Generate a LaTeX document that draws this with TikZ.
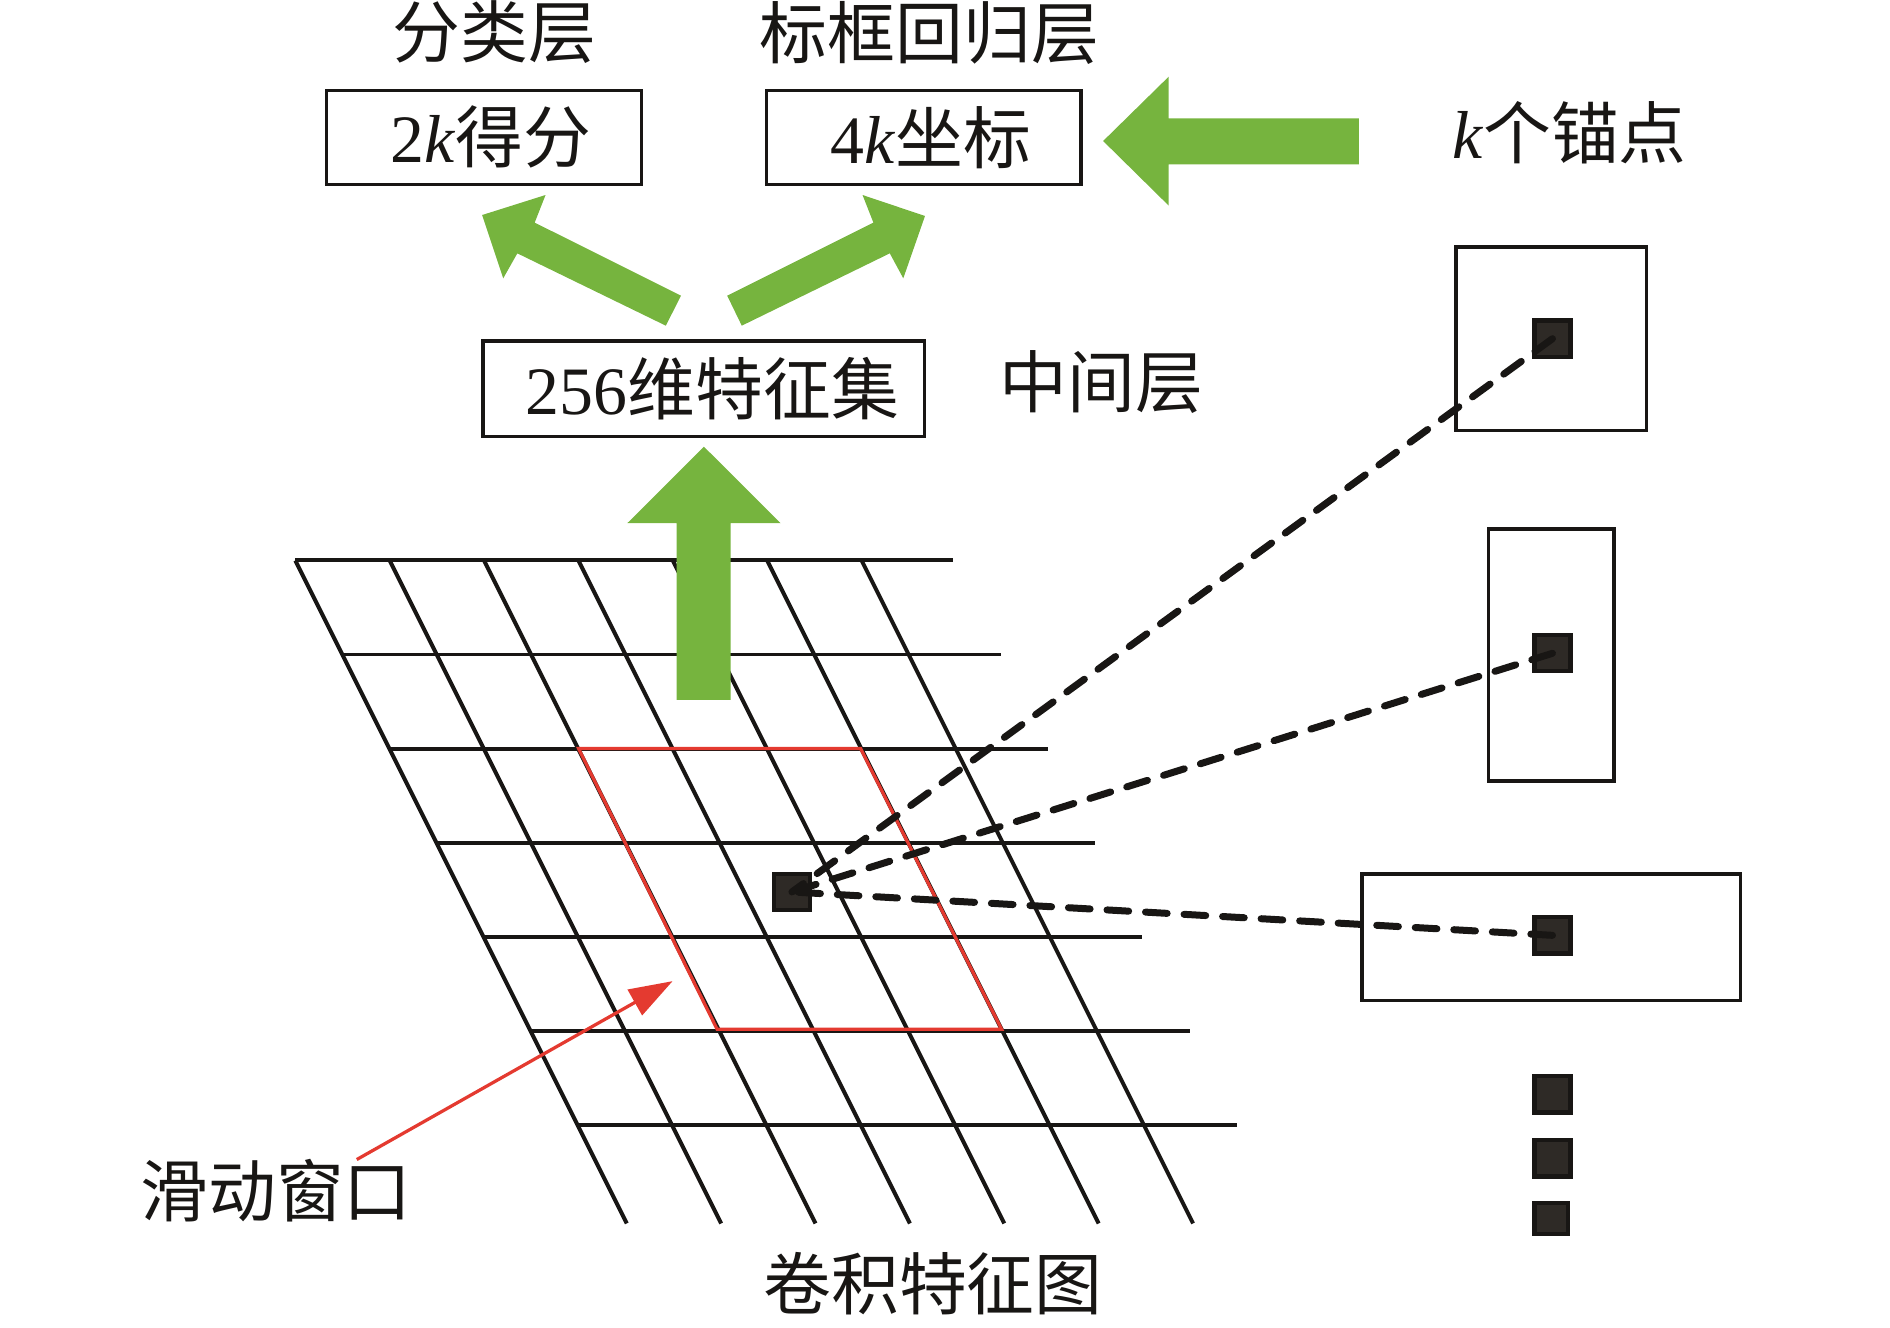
\documentclass[tikz,border=0pt]{standalone}
\usepackage{fontspec}
\setmainfont{Liberation Serif}
\newfontfamily\cjk{Noto Sans CJK SC}
\usetikzlibrary{arrows.meta}
\definecolor{arrgreen}{RGB}{118,180,62}
\definecolor{winred}{RGB}{228,58,48}
\definecolor{sqfill}{RGB}{46,42,38}
\definecolor{ink}{RGB}{24,22,20}
\newcommand\cjktxt[1]{{\cjk #1}}
\tikzset{
  lbl/.style={inner sep=0pt, text=ink, font=\fontsize{16pt}{16pt}\selectfont},
  outbox/.style={draw=ink, line width=0.03cm, inner sep=0pt, text=ink, font=\fontsize{16pt}{16pt}\selectfont},
  anchorbox/.style={draw=ink, line width=0.03cm, inner sep=0pt},
  sq/.style={draw=ink, fill=sqfill, line width=0.035cm, minimum width=0.30cm, minimum height=0.30cm, inner sep=0pt},
  gridline/.style={line width=0.033cm, draw=ink},
  dashline/.style={line width=0.058cm, dash pattern=on 0.18cm off 0.14cm, line cap=round, draw=ink},
  greenarrow/.style={fill=arrgreen, draw=none},
  winline/.style={line width=0.027cm, draw=winred},
}
\begin{document}
\begin{tikzpicture}[x=0.01cm,y=-0.01cm]
\useasboundingbox (0,0) rectangle (1568,1101);

% convolution feature map grid
\foreach \i in {0,...,6} {
  \draw[gridline] (245+39.2*\i,465+78*\i) -- (791+39.2*\i,465+78*\i);
  \draw[gridline] (245+78.3*\i,465) -- (520+78.3*\i,1015);
}

% labels
\node[lbl] (cls) at (410,27) {\cjktxt{分类层}};
\node[lbl] (reg) at (771,27) {\cjktxt{标框回归层}};
\node[lbl] (mid) at (914,317) {\cjktxt{中间层}};
\node[lbl] (kanc) at (1302,110) {\textit{k}\cjktxt{个锚点}};
\node[lbl] (slide) at (229,988) {\cjktxt{滑动窗口}};
\node[lbl] (conv) at (774,1065) {\cjktxt{卷积特征图}};

% output boxes
\node[outbox, minimum width=2.61cm, minimum height=0.78cm] (score) at (401.5,114) {\hspace*{0.12cm}2\textit{k}\cjktxt{得分}};
\node[outbox, minimum width=2.61cm, minimum height=0.78cm] (coord) at (766.5,114) {\hspace*{0.12cm}4\textit{k}\cjktxt{坐标}};
\node[outbox, minimum width=3.66cm, minimum height=0.79cm] (feat) at (584,322.5) {\hspace*{0.14cm}256\cjktxt{维特征集}};

% green block arrows
\fill[greenarrow] (400,178.4) -- (452.6,161.8) -- (443.6,184.7) -- (565,245.3) -- (552.4,270.2) -- (429.2,210.2) -- (417.5,230.9) -- cycle;
\fill[greenarrow] (767.4,179.2) -- (715.6,161.8) -- (724.6,184.7) -- (603.3,245.3) -- (615.4,270.2) -- (738.2,210.2) -- (749.4,230.9) -- cycle;
\fill[greenarrow] (915.2,117) -- (969.6,63.6) -- (969.6,98.2) -- (1127.3,98.2) -- (1127.3,136.3) -- (969.6,136.3) -- (969.6,170.6) -- cycle;
\fill[greenarrow] (584,370.6) -- (647.6,434.1) -- (606.2,434.1) -- (606.2,580.7) -- (561.4,580.7) -- (561.4,434.1) -- (520.4,434.1) -- cycle;

% sliding window
\draw[winline, line join=miter] (480,621) -- (714,621) -- (831,854) -- (595,854) -- cycle;
\coordinate (wstart) at (296,962);
\coordinate (wtip) at (558,814);
\draw[winline, -{Triangle[length=0.36cm,width=0.24cm]}] (wstart) -- (wtip);

% anchor boxes
\node[anchorbox, minimum width=1.58cm, minimum height=1.52cm] (a1) at (1287,281) {};
\node[anchorbox, minimum width=1.04cm, minimum height=2.09cm] (a2) at (1287,543.5) {};
\node[anchorbox, minimum width=3.14cm, minimum height=1.05cm] (a3) at (1287,777.5) {};

% small squares
\node[sq] (c) at (657,740) {};
\node[sq] (s1) at (1288,281) {};
\node[sq] (s2) at (1288,542) {};
\node[sq] (s3) at (1288,776) {};
\node[sq] (d1) at (1288,908) {};
\node[sq] (d2) at (1288,961) {};
\node[sq, minimum width=0.28cm, minimum height=0.26cm] (d3) at (1287,1011) {};

% dashed connections
\draw[dashline] (s1.center) -- (c.center);
\draw[dashline] (s2.center) -- (c.center);
\draw[dashline] (s3.center) -- (c.center);
\end{tikzpicture}
\end{document}
